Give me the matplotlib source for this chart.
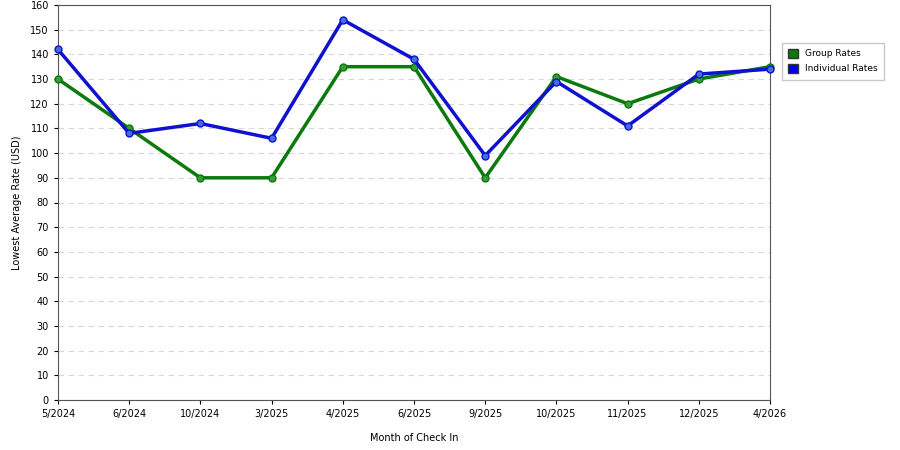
import matplotlib.pyplot as plt

months = ["5/2024", "6/2024", "10/2024", "3/2025", "4/2025", "6/2025",
          "9/2025", "10/2025", "11/2025", "12/2025", "4/2026"]
group_rates = [130, 110, 90, 90, 135, 135, 90, 131, 120, 130, 135]
individual_rates = [142, 108, 112, 106, 154, 138, 99, 129, 111, 132, 134]

fig = plt.figure(figsize=(9, 4.5), dpi=100)
ax = fig.add_axes([0.0644, 0.111, 0.7912, 0.878])

x = range(len(months))
ax.plot(x, group_rates, color="#0a7a0a", linewidth=2.5, marker="o", markersize=5,
        markerfacecolor="#3a9a3a", markeredgecolor="#0a7a0a", label="Group Rates",
        zorder=3, clip_on=False)
ax.plot(x, individual_rates, color="#1010d0", linewidth=2.5, marker="o", markersize=5,
        markerfacecolor="#4070e0", markeredgecolor="#1010d0", label="Individual Rates",
        zorder=4, clip_on=False)

ax.set_xlim(0, len(months) - 1)
ax.set_ylim(0, 160)
ax.set_yticks(range(0, 161, 10))
ax.set_xticks(list(x))
ax.set_xticklabels(months)
ax.tick_params(labelsize=7, length=3)
ax.grid(axis="y", linestyle=(0, (5, 4)), color="#d8d8d8", linewidth=0.8)
ax.set_axisbelow(True)
for s in ax.spines.values():
    s.set_color("#555555")
    s.set_linewidth(0.8)

ax.set_xlabel("Month of Check In", fontsize=7, labelpad=10)
ax.set_ylabel("Lowest Average Rate (USD)", fontsize=7, labelpad=6)

h1 = plt.Rectangle((0, 0), 1, 1, facecolor="#0a7a0a", edgecolor="#333333")
h2 = plt.Rectangle((0, 0), 1, 1, facecolor="#0000ee", edgecolor="#333333")
fig.legend([h1, h2], ["Group Rates", "Individual Rates"], loc="upper left",
           bbox_to_anchor=(0.864, 0.915), fontsize=6.5, frameon=True, fancybox=False,
           edgecolor="#bbbbbb", handlelength=1.1, handleheight=1.1, borderpad=0.7,
           labelspacing=0.6, handletextpad=0.7)

plt.savefig("out.png", dpi=100)
plt.close()
